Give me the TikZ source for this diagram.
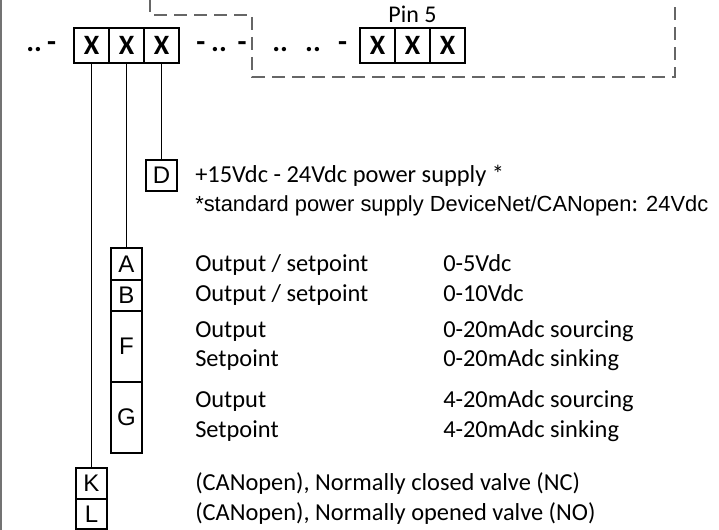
\documentclass[tikz,border=0pt]{standalone}
\usepackage{fontspec}
\setmainfont{Carlito}
\newfontfamily\arialfont{Liberation Sans}
\usetikzlibrary{positioning}
\tikzset{
    % boxes of the code string
    pinbox/.style={
        rectangle,
        draw=black,
        line width=1.3pt,
        minimum width=26.25pt,
        minimum height=26.25pt,
        inner sep=0pt,
        outer sep=0pt,
        font=\bfseries\fontsize{21}{21}\selectfont
    },
    % option letter boxes
    codebox/.style={
        rectangle,
        draw=black,
        line width=1.2pt,
        minimum width=23.5pt,
        minimum height=23.5pt,
        inner sep=0pt,
        outer sep=0pt,
        font=\arialfont\fontsize{18}{18}\selectfont
    },
    % lines
    wire/.style={
        draw=black,
        line width=1.1pt
    },
    frame/.style={
        draw=black!60,
        line width=1.1pt,
        dash pattern=on 10pt off 5pt
    },
    % texts
    desc/.style={
        anchor=base west,
        inner sep=0pt,
        font=\fontsize{18.3}{18.3}\selectfont
    },
    filler/.style={
        anchor=base west,
        inner sep=0pt,
        font=\bfseries\fontsize{22}{22}\selectfont
    }
}

\begin{document}
\begin{tikzpicture}[x=0.75pt, y=-0.75pt]
    \useasboundingbox (0,0) rectangle (719,530);
    \draw[black!55, line width=0.8pt] (1,0) -- (1,530);

    % Code string
    \node[filler] (lead) at (26,52) {..\hspace{4pt}-};
    \node[pinbox] (x1) at (91.5,45.5) {X};
    \node[pinbox] (x2) at (126.5,45.5) {X};
    \node[pinbox] (x3) at (161.5,45.5) {X};
    \node[filler] (mid) at (196,52) {-\hspace{4.5pt}..\hspace{8pt}-};
    \node[filler] (rest) at (272,52) {..\hspace{13pt}..\hspace{13pt}-};
    \node[pinbox] (y1) at (377.5,45.5) {X};
    \node[pinbox] (y2) at (412.5,45.5) {X};
    \node[pinbox] (y3) at (447.5,45.5) {X};
    \node[anchor=base, inner sep=0pt, font=\fontsize{18}{18}\selectfont] (pin) at (412.5,23) {Pin 5};

    % Dashed frame
    \coordinate (f1) at (150,-1);
    \coordinate (f2) at (675,-1);
    \draw[frame] (f1) -- (150,15) -- (252,15) -- (252,77) -- (675,77) -- (f2);

    % Option boxes
    \node[codebox] (D) at (161.5,175.5) {D};
    \node[codebox, minimum height=24pt] (A) at (126.5,264) {A};
    \node[codebox, minimum height=23.25pt] (B) at (126.5,295.5) {B};
    \node[codebox, minimum height=53.25pt] (F) at (126.5,346.5) {F};
    \node[codebox, minimum height=53.25pt] (G) at (126.5,417.5) {G};
    \node[codebox, minimum height=23.25pt] (K) at (91.5,483.5) {K};
    \node[codebox, minimum height=22.5pt] (L) at (91.5,514) {L};

    % Connectors
    \draw[wire] (x3.south) -- (D.north);
    \draw[wire] (x2.south) -- (A.north);
    \draw[wire] (x1.south) -- (K.north);

    % Descriptions
    \node[desc] (d1) at (195,183) {+15Vdc - 24Vdc power supply *};
    \node[desc, font=\arialfont\fontsize{16.4}{16.4}\selectfont] (d2) at (195,212) {*standard power supply DeviceNet/CANopen{\fontspec{Carlito}\fontsize{18.3}{18.3}\selectfont:} 24Vdc};
    \node[desc] (a1) at (195,272) {Output / setpoint};
    \node[desc] (a2) at (443,272) {0-5Vdc};
    \node[desc] (b1) at (195,302) {Output / setpoint};
    \node[desc] (b2) at (443,302) {0-10Vdc};
    \node[desc] (f1t) at (195,338) {Output};
    \node[desc] (f2t) at (443,338) {0-20mAdc sourcing};
    \node[desc] (f3t) at (195,367) {Setpoint};
    \node[desc] (f4t) at (443,367) {0-20mAdc sinking};
    \node[desc] (g1) at (195,408) {Output};
    \node[desc] (g2) at (443,408) {4-20mAdc sourcing};
    \node[desc] (g3) at (195,438) {Setpoint};
    \node[desc] (g4) at (443,438) {4-20mAdc sinking};
    \node[desc] (k1) at (195,491) {(CANopen), Normally closed valve (NC)};
    \node[desc] (l1) at (195,521) {(CANopen), Normally opened valve (NO)};
\end{tikzpicture}
\end{document}
